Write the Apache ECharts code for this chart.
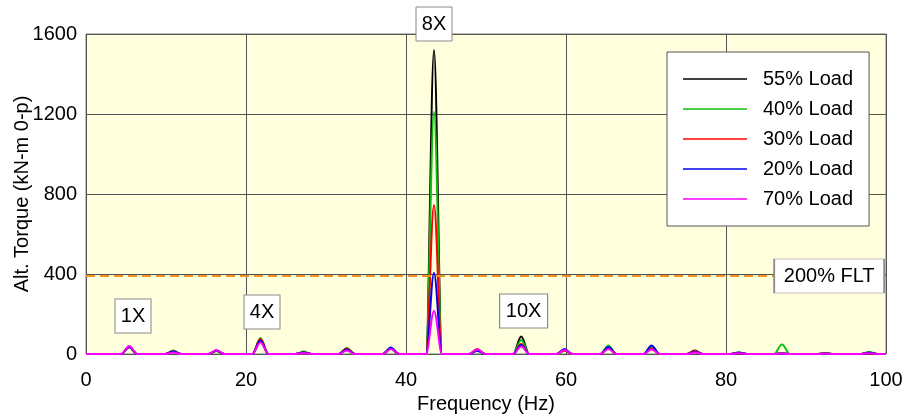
<!DOCTYPE html>
<html><head><meta charset="utf-8">
<script src="https://cdn.jsdelivr.net/npm/echarts@6/dist/echarts.min.js"></script>
<style>html,body{margin:0;padding:0;background:#fff}#c{width:904px;height:417px}</style>
</head><body><div id="c"></div>
<script>
// Harmonic peak frequencies (Hz)
const peakFreq = [5.4, 10.9, 16.3, 21.8, 27.2, 32.6, 38.1, 43.5, 48.9, 54.4, 59.8, 65.3, 70.7, 76.1, 81.6, 87.0, 92.4, 97.9];
// Peak amplitudes per series (kN-m 0-p)
const load55 = [35, 10, 15, 72, 8, 25, 28, 1520, 20, 87, 18, 38, 38, 17, 5, 3, 3, 5];
const load40 = [35, 17, 15, 80, 12, 30, 28, 1210, 20, 70, 18, 42, 35, 12, 8, 47, 5, 10];
const load30 = [35, 12, 16, 75, 8, 27, 28, 745, 25, 50, 18, 30, 28, 15, 5, 3, 3, 5];
const load20 = [35, 13, 18, 67, 8, 22, 33, 405, 15, 45, 25, 35, 42, 10, 8, 3, 3, 8];
const load70 = [40, 8, 20, 58, 5, 18, 25, 215, 22, 37, 20, 25, 22, 8, 4, 2, 2, 4];
const seriesNames = ['55% Load', '40% Load', '30% Load', '20% Load', '70% Load'];
const fltLevel = 390;
const xTicks = [0, 20, 40, 60, 80, 100];
const yTicks = [0, 400, 800, 1200, 1600];
const yTitle = 'Alt. Torque (kN-m 0-p)';

const FONT = 'Liberation Sans, Arial, sans-serif';
const HALF = 1.0;
function build(peaks) {
  const d = [[0, 0]];
  peakFreq.forEach((f, i) => {
    d.push([f - HALF, 0]); d.push([f, peaks[i]]); d.push([f + HALF, 0]);
  });
  d.push([100, 0]);
  return d;
}
const colors = ['#000000', '#10c010', '#ff0000', '#0000ee', '#ff00ff'];
const vals = [load55, load40, load30, load20, load70];

const series = seriesNames.map((n, i) => ({
  name: n, type: 'line', data: build(vals[i]), showSymbol: false, symbol: 'none',
  smooth: 0.35, smoothMonotone: 'x',
  lineStyle: { color: colors[i], width: 2 }, itemStyle: { color: colors[i] },
  z: 2 + i, animation: false
}));

function box(text, x, y, w) {
  return {
    coord: [x, y], symbol: 'rect', symbolSize: [w, 34],
    itemStyle: { color: '#ffffff', borderColor: '#8a8a8a', borderWidth: 1 },
    label: { show: true, position: 'inside', formatter: text, color: '#000', fontSize: 20, fontFamily: FONT }
  };
}
series.push({
  name: 'annot', type: 'line', data: [], z: 20, animation: false,
  markLine: {
    silent: true, symbol: 'none', animation: false,
    lineStyle: { color: '#f39422', width: 2, type: [9, 5] },
    label: { show: false },
    data: [{ yAxis: fltLevel }]
  },
  markPoint: {
    silent: true, animation: false,
    data: [
      box('1X', 5.875, 190, 36),
      box('4X', 22, 210, 36),
      box('10X', 54.7, 215, 48),
      box('200% FLT', 92.9, fltLevel, 110)
    ]
  }
});

const chart = echarts.init(document.getElementById('c'), null, { renderer: 'canvas' });
chart.setOption({
  animation: false,
  textStyle: { fontFamily: FONT },
  grid: { left: 86, right: 18, top: 34, bottom: 63, containLabel: false, outerBoundsMode: 'none',
    show: true, backgroundColor: '#ffffdd', borderColor: '#7a7a7a', borderWidth: 1 },
  legend: {
    data: seriesNames, orient: 'vertical', left: 667, top: 52,
    backgroundColor: '#ffffff', borderColor: '#555555', borderWidth: 1,
    padding: [17, 16, 17, 16], itemGap: 10, itemWidth: 64, itemHeight: 14,
    textStyle: { fontSize: 20, color: '#000', fontFamily: FONT, padding: [0, 0, 0, 11] },
    icon: 'path://M0,6 L64,6 L64,7.5 L0,7.5 Z'
  },
  xAxis: {
    type: 'value', min: xTicks[0], max: xTicks[xTicks.length - 1], interval: 20,
    name: 'Frequency (Hz)', nameLocation: 'middle', nameGap: 40,
    nameTextStyle: { fontSize: 20, color: '#000', fontFamily: FONT },
    axisLine: { show: false }, axisTick: { show: false },
    axisLabel: { fontSize: 20, color: '#000', margin: 16, fontFamily: FONT, formatter: v => String(v) },
    splitLine: { show: true, lineStyle: { color: '#555555', width: 1 } }
  },
  yAxis: {
    type: 'value', min: yTicks[0], max: yTicks[yTicks.length - 1], interval: 400,
    axisLine: { show: false }, axisTick: { show: false },
    axisLabel: { fontSize: 20, color: '#000', margin: 9, fontFamily: FONT, formatter: v => String(v) },
    splitLine: { show: true, lineStyle: { color: '#555555', width: 1 } }
  },
  series: series
});
// 8X label sits above the plot area; place it from the axis scale
const p8 = chart.convertToPixel({ gridIndex: 0 }, [peakFreq[7], 1650]);
const pMid = chart.convertToPixel({ gridIndex: 0 }, [0, 800]);
chart.setOption({
  graphic: [{
    type: 'group', x: p8[0], y: p8[1], z: 100,
    children: [
      { type: 'rect', shape: { x: -18, y: -17, width: 36, height: 34 },
        style: { fill: '#fff', stroke: '#8a8a8a', lineWidth: 1 } },
      { type: 'text', style: { text: '8X', x: 0, y: 0, align: 'center', verticalAlign: 'middle',
        fontSize: 20, fontFamily: FONT, fill: '#000' } }
    ]
  }, {
    type: 'text', x: 22, y: pMid[1], rotation: Math.PI / 2, z: 100,
    style: { text: yTitle, align: 'center', verticalAlign: 'middle', fontSize: 20, fontFamily: FONT, fill: '#000' }
  }]
});
</script></body></html>
